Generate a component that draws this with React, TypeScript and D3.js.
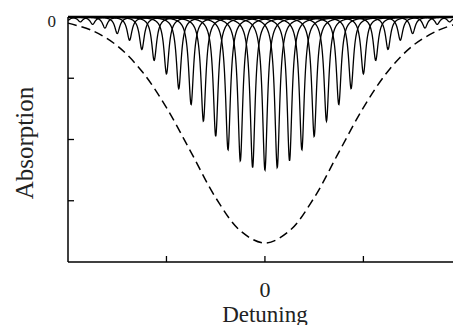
import React from "react";
import * as d3 from "d3";

// Comb of narrow absorption lines (positions in detuning units, depths in absorption units)
const lineCenters = [
  -2, -1.875, -1.75, -1.625, -1.5, -1.375, -1.25, -1.125, -1, -0.875, -0.75, -0.625,
  -0.5, -0.375, -0.25, -0.125, 0, 0.125, 0.25, 0.375, 0.5, 0.625, 0.75, 0.875, 1,
  1.125, 1.25, 1.375, 1.5, 1.625, 1.75, 1.875,
];
const lineDepths = [
  0.05, 0.08, 0.12, 0.18, 0.27, 0.38, 0.53, 0.71, 0.93, 1.17, 1.43, 1.7,
  1.95, 2.17, 2.35, 2.46, 2.5, 2.46, 2.35, 2.17, 1.95, 1.7, 1.43, 1.17, 0.93,
  0.71, 0.53, 0.38, 0.27, 0.18, 0.12, 0.08,
];
const lineHalfWidth = 0.03;

// Doppler-broadened profile (dashed)
const dopplerX = [
  -2, -1.75, -1.5, -1.25, -1, -0.75, -0.5, -0.25, 0, 0.25, 0.5, 0.75, 1, 1.25, 1.5,
  1.75, 1.91,
];
const dopplerY = [
  0.1, 0.225, 0.47, 0.885, 1.48, 2.21, 2.95, 3.49, 3.69, 3.49, 2.95, 2.21, 1.48,
  0.885, 0.47, 0.225, 0.13,
];

const xTicks = [-1, 0, 1];
const yTicks = [1, 2, 3];
const xTickLabels = ["0"];
const yTickLabels = ["0"];

const W = 453;
const H = 325;
const FONT = "'Liberation Serif', 'Times New Roman', serif";

export default function App() {
  const x = d3.scaleLinear().domain([-2, 1.91]).range([68, 453]);
  const y = d3.scaleLinear().domain([0, 4]).range([17, 262]);

  const line = d3
    .line<[number, number]>()
    .x((d) => x(d[0]))
    .y((d) => y(d[1]));

  const [x0, x1] = x.domain();
  const step = 0.003;
  const combPaths = lineCenters.map((c, i) => {
    const depth = lineDepths[i];
    const pts: [number, number][] = [];
    for (let v = x0; v <= x1 + 1e-9; v += step) {
      const u = (v - c) / lineHalfWidth;
      pts.push([v, depth / (1 + u * u)]);
    }
    return line(pts) as string;
  });

  const dopplerLine = d3
    .line<number>()
    .x((d, i) => x(dopplerX[i]))
    .y((d) => y(d))
    .curve(d3.curveCatmullRom.alpha(0.5));

  return (
    <svg
      width={W}
      height={H}
      style={{ position: "absolute", left: 0, top: 0, background: "#fff" }}
    >
      <rect x={0} y={0} width={W} height={H} fill="#fff" />
      {combPaths.map((p, i) => (
        <path key={i} d={p} fill="none" stroke="#000" strokeWidth={1.3} />
      ))}
      <path
        d={dopplerLine(dopplerY) as string}
        fill="none"
        stroke="#000"
        strokeWidth={1.5}
        strokeDasharray="9,5"
      />
      {/* top baseline */}
      <line x1={x(x0)} x2={W} y1={y(0)} y2={y(0)} stroke="#000" strokeWidth={2.5} />
      {/* left axis */}
      <line x1={x(x0)} x2={x(x0)} y1={y(0)} y2={y(4)} stroke="#000" strokeWidth={1.5} />
      {yTicks.map((t) => (
        <line key={t} x1={x(x0)} x2={x(x0) + 6} y1={y(t)} y2={y(t)} stroke="#000" strokeWidth={1.3} />
      ))}
      {/* bottom axis */}
      <line x1={x(x0)} x2={W} y1={y(4)} y2={y(4)} stroke="#000" strokeWidth={1.5} />
      {xTicks.map((t) => (
        <line key={t} x1={x(t)} x2={x(t)} y1={y(4)} y2={y(4) - 6} stroke="#000" strokeWidth={1.3} />
      ))}
      <text x={x(x0) - 12} y={y(0) + 10} fontSize={17} textAnchor="end" fontFamily={FONT} fill="#222">
        {yTickLabels[0]}
      </text>
      <text x={x(0)} y={297} fontSize={22} textAnchor="middle" fontFamily={FONT} fill="#222">
        {xTickLabels[0]}
      </text>
      <text x={x(0)} y={322} fontSize={23} textAnchor="middle" fontFamily={FONT} fill="#222">
        Detuning
      </text>
      <text
        transform={`translate(33,143) rotate(-90)`}
        fontSize={25}
        textAnchor="middle"
        fontFamily={FONT}
        fill="#222"
      >
        Absorption
      </text>
    </svg>
  );
}
